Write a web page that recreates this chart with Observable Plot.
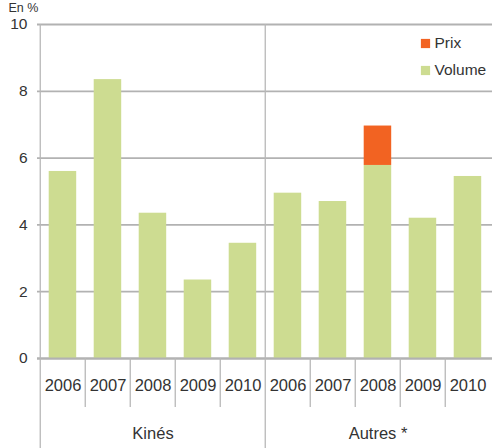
<!DOCTYPE html>
<html>
<head>
<meta charset="utf-8">
<script src="https://cdn.jsdelivr.net/npm/d3@7"></script>
<script src="https://cdn.jsdelivr.net/npm/@observablehq/plot@0.6"></script>
<style>
  html, body { margin: 0; padding: 0; background: #fff; }
</style>
</head>
<body>
<div id="chart"></div>
<script>
const groups = ["Kinés", "Autres *"];
const years = ["2006", "2007", "2008", "2009", "2010"];
const volumeKines = [5.6, 8.35, 4.35, 2.35, 3.45];
const prixKines = [0, 0, 0, 0, 0];
const volumeAutres = [4.95, 4.7, 5.78, 4.2, 5.45];
const prixAutres = [0, 0, 1.18, 0, 0];
const series = ["Prix", "Volume"];
const yTicks = [0, 2, 4, 6, 8, 10];

const W = 492, H = 448;
const mLeft = 37, mRight = 0, mTop = 24, mBottom = 90;
const step = (W - mLeft - mRight) / (groups.length * years.length);

const keys = [];
groups.forEach(g => years.forEach(y => keys.push(g + "|" + y)));

const rows = [];
years.forEach((y, i) => {
  rows.push({key: "Kinés|" + y, serie: "Volume", value: volumeKines[i]});
  rows.push({key: "Kinés|" + y, serie: "Prix", value: prixKines[i]});
});
years.forEach((y, i) => {
  rows.push({key: "Autres *|" + y, serie: "Volume", value: volumeAutres[i]});
  rows.push({key: "Autres *|" + y, serie: "Prix", value: prixAutres[i]});
});

const yearSeps = keys.filter(k => !k.endsWith("|" + years[0]));
const groupSeps = groups.map(g => g + "|" + years[0]);
const groupCenters = groups.map(g => g + "|" + years[2]);

const legendMarks = series.flatMap((s, i) => [
  Plot.dot([s], {frameAnchor: "top-right", dx: -67, dy: 19 + 27 * i, fill: d => d, symbol: "square", r: 5.2}),
  Plot.text([s], {frameAnchor: "top-right", dx: -58, dy: 19 + 27 * i, text: d => d, textAnchor: "start", lineAnchor: "middle", fontSize: 15.5, fill: "#333"})
]);

const plot = Plot.plot({
  width: W,
  height: H,
  marginLeft: mLeft,
  marginRight: mRight,
  marginTop: mTop,
  marginBottom: mBottom,
  style: {fontFamily: "'Liberation Sans', Arial, sans-serif", color: "#333", background: "#fff"},
  x: {type: "band", domain: keys, padding: 0},
  y: {domain: [0, 10]},
  color: {domain: series, range: ["#f26322", "#cddc91"]},
  marks: [
    Plot.gridY(yTicks, {stroke: "#b2b2b2", strokeOpacity: 1, strokeWidth: 1.8}),
    Plot.barY(rows, {x: "key", y: "value", fill: "serie", order: ["Volume", "Prix"], insetLeft: 8.7, insetRight: 8.8}),
    Plot.ruleY([0], {stroke: "#b2b2b2", strokeWidth: 1.8}),
    Plot.ruleX(yearSeps, {x: d => d, dx: -step / 2, y1: 0, y2: -1.47, stroke: "#b8b8b8", strokeWidth: 1.3}),
    Plot.ruleX(groupSeps, {x: d => d, dx: -step / 2, y1: 10, y2: -2.7, stroke: "#b8b8b8", strokeWidth: 1.3}),
    Plot.axisY(yTicks, {tickSize: 0, tickPadding: 10, fontSize: 15.5, label: null}),
    Plot.axisX({tickSize: 0, tickPadding: 21, fontSize: 16.5, label: null, tickFormat: k => k.split("|")[1]}),
    Plot.text(groupCenters, {x: d => d, frameAnchor: "bottom", dy: 75, text: d => d.split("|")[0], fontSize: 16.5, lineAnchor: "middle", fill: "#333"}),
    Plot.text(["En %"], {frameAnchor: "top-left", dx: -29, dy: -21, lineAnchor: "top", textAnchor: "start", fontSize: 12.5, fill: "#333"}),
    ...legendMarks
  ]
});
document.getElementById("chart").appendChild(plot);
</script>
</body>
</html>
